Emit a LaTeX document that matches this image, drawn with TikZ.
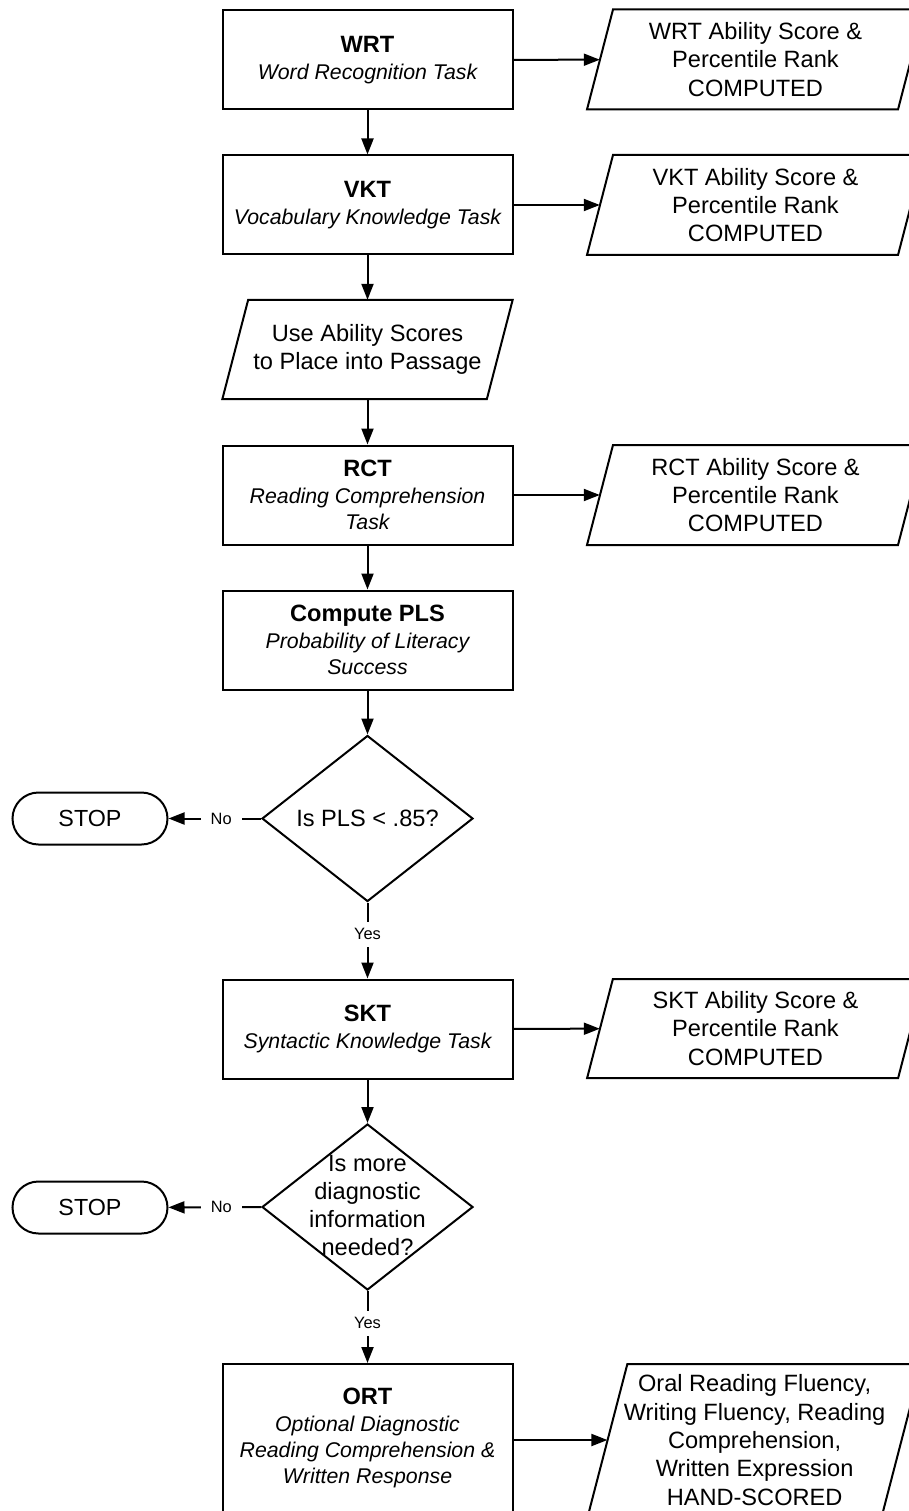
\documentclass[tikz,border=0pt]{standalone}
\usepackage{fontspec}
\setmainfont{Liberation Sans}
\usetikzlibrary{arrows.meta,shapes.geometric}

\tikzset{
  proc/.style={draw, line width=2pt, minimum width=290pt, minimum height=99pt,
    align=center, inner sep=2pt, font=\fontsize{23.6}{27}\selectfont},
  ptext/.style={align=center, inner sep=0pt, font=\fontsize{23.6}{28.3}\selectfont},
  shapeline/.style={draw, line width=2pt, line join=miter},
  decision/.style={draw, diamond, line width=2pt, minimum width=211pt,
    minimum height=166pt, inner sep=0pt},
  dtext/.style={align=center, inner sep=0pt, font=\fontsize{23.6}{28}\selectfont},
  term/.style={draw, line width=2pt, rounded corners=26pt, minimum width=155pt,
    minimum height=52pt, inner sep=0pt, font=\fontsize{23.3}{28}\selectfont},
  lbl/.style={fill=white, inner xsep=10pt, inner ysep=7pt, font=\fontsize{16.4}{19}\selectfont},
  arr/.style={line width=2pt, -{Triangle[length=16pt,width=12pt]}}
}

% parallelogram: name, cx, cy, half width (at mid height), half height, text
\newcommand{\paranode}[6]{%
  \node[ptext, minimum width={2*#4}, minimum height={2*#5}] (#1) at (#2,#3) {#6};
  \draw[shapeline] ({#2-#4-0.26*#5},{#3+#5}) -- ({#2-#4+0.26*#5},{#3-#5})
     -- ({#2+#4+0.26*#5},{#3-#5}) -- ({#2+#4-0.26*#5},{#3+#5}) -- cycle;
}

\begin{document}
\begin{tikzpicture}[x={(1pt,0pt)}, y={(0pt,-1pt)}]
  \useasboundingbox (0,0) rectangle (909,1511);
  \fill[white] (0,0) rectangle (909,1511);
  \clip (0,0) rectangle (909,1511);

  % main column
  \node[proc] (wrt) at (367.5,60) {{\bfseries WRT}\\{\itshape\fontsize{21.3}{26}\selectfont Word Recognition Task}};
  \node[proc] (vkt) at (367.5,205) {{\bfseries VKT}\\{\itshape\fontsize{21.3}{26}\selectfont Vocabulary Knowledge Task}};
  \paranode{use}{367.5}{349.5}{132.25}{49.5}{Use Ability Scores\\to Place into Passage}
  \node[proc] (rct) at (367.5,495) {{\bfseries RCT}\\{\itshape\fontsize{21.3}{26}\selectfont Reading Comprehension}\\[-1pt]{\itshape\fontsize{21.3}{26}\selectfont Task}};
  \node[proc] (pls) at (367.5,640) {{\bfseries Compute PLS}\\{\itshape\fontsize{21.3}{26}\selectfont Probability of Literacy}\\[-1pt]{\itshape\fontsize{21.3}{26}\selectfont Success}};
  \node[decision] (d1) at (367.5,818.5) {};
  \node[dtext] (d1t) at (367.5,818.5) {Is PLS < .85?};
  \node[term] (stop1) at (90,818.5) {STOP};
  \node[proc] (skt) at (367.5,1029) {{\bfseries SKT}\\{\itshape\fontsize{21.3}{26}\selectfont Syntactic Knowledge Task}};
  \node[decision] (d2) at (367.5,1207) {};
  \node[dtext] (d2t) at (367.5,1205) {Is more\\diagnostic\\information\\needed?};
  \node[term] (stop2) at (90,1207.5) {STOP};
  \node[proc, minimum height=148pt] (ort) at (367.5,1438) {{\bfseries ORT}\\{\itshape\fontsize{21.3}{26}\selectfont Optional Diagnostic}\\[-1pt]{\itshape\fontsize{21.3}{26}\selectfont Reading Comprehension \&}\\[-1pt]{\itshape\fontsize{21.3}{26}\selectfont Written Response}};

  % outputs
  \paranode{wrtout}{755.5}{59.5}{155.5}{50}{WRT Ability Score \&\\Percentile Rank\\COMPUTED}
  \paranode{vktout}{755.5}{205}{155.5}{50}{VKT Ability Score \&\\Percentile Rank\\COMPUTED}
  \paranode{rctout}{755.5}{495}{155.5}{50}{RCT Ability Score \&\\Percentile Rank\\COMPUTED}
  \paranode{sktout}{755.5}{1028.5}{155.5}{49.5}{SKT Ability Score \&\\Percentile Rank\\COMPUTED}
  \paranode{ortout}{754.6}{1440}{147}{76}{Oral Reading Fluency,\\Writing Fluency, Reading\\Comprehension,\\Written Expression\\HAND-SCORED}

  % connectors
  \draw[arr] (wrt) -- (vkt);
  \draw[arr] (vkt) -- (use);
  \draw[arr] (use) -- (rct);
  \draw[arr] (rct) -- (pls);
  \draw[arr] (pls) -- (d1);
  \draw[arr] (d1) -- node[lbl, pos=0.43] {No} (stop1);
  \draw[arr] (d1) -- node[lbl, pos=0.42] {Yes} (skt);
  \draw[arr] (skt) -- (d2);
  \draw[arr] (d2) -- node[lbl, pos=0.43] {No} (stop2);
  \draw[arr] (d2) -- node[lbl, pos=0.45] {Yes} (ort);

  \draw[arr] (wrt) -- (wrtout);
  \draw[arr] (vkt) -- (vktout);
  \draw[arr] (rct) -- (rctout);
  \draw[arr] (skt) -- (sktout);
  \draw[arr] (ort.east |- ortout.west) -- (ortout.west);
\end{tikzpicture}
\end{document}
